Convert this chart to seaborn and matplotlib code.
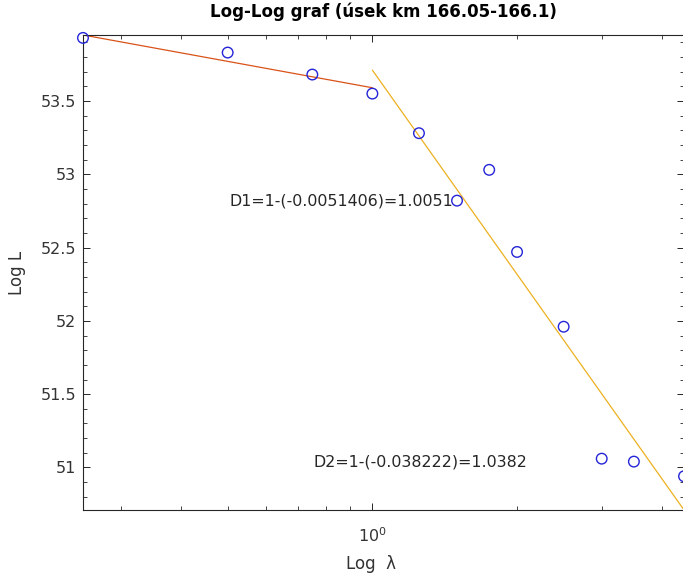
import numpy as np
import pandas as pd
import matplotlib
matplotlib.use("Agg")
import matplotlib.pyplot as plt
import seaborn as sns
from matplotlib.ticker import LogLocator, NullFormatter, FixedLocator, FixedFormatter, MultipleLocator

# data
lam = [0.25, 0.5, 0.75, 1.0, 1.25, 1.5, 1.75, 2.0, 2.5, 3.0, 3.5, 4.45]
logL = [53.93, 53.83, 53.68, 53.55, 53.28, 52.82, 53.03, 52.47, 51.96, 51.06, 51.04, 50.94]

# fitted lines (end points)
fit1_x = [0.25, 1.0]
fit1_y = [53.95, 53.59]
fit2_x = [1.0, 4.45]
fit2_y = [53.71, 50.71]

d1_text = "D1=1-(-0.0051406)=1.0051"
d2_text = "D2=1-(-0.038222)=1.0382"
title = "Log-Log graf (úsek km 166.05-166.1)"

sns.set_style("ticks")
plt.rcParams['font.family'] = ['DejaVu Sans']
plt.rcParams['mathtext.fontset'] = 'dejavusans'

pts = pd.DataFrame({'lam': lam, 'logL': logL})
l1 = pd.DataFrame({'x': fit1_x, 'y': fit1_y})
l2 = pd.DataFrame({'x': fit2_x, 'y': fit2_y})

fig = plt.figure(figsize=(6.83, 5.79), dpi=100)
ax = fig.add_axes([0.1215, 0.1192, 0.8800, 0.8204])

sns.lineplot(data=l1, x='x', y='y', ax=ax, color='#D95319', linewidth=0.9)
sns.lineplot(data=l2, x='x', y='y', ax=ax, color='#EDB120', linewidth=0.9)
sns.scatterplot(data=pts, x='lam', y='logL', ax=ax, marker='o', s=58,
                facecolors='none', edgecolor='#2424d8', linewidth=1.0, zorder=5, clip_on=False)

ax.set_xscale('log')
ax.set_xlim(0.25, 4.45)
ax.set_ylim(50.71, 53.95)

ax.xaxis.set_major_locator(FixedLocator([1.0]))
ax.xaxis.set_major_formatter(FixedFormatter([r'$10^{0}$']))
ax.xaxis.set_minor_locator(LogLocator(base=10, subs=np.arange(2, 10)))
ax.xaxis.set_minor_formatter(NullFormatter())
ax.yaxis.set_major_locator(MultipleLocator(0.5))
ax.yaxis.set_minor_locator(MultipleLocator(0.1))
ax.yaxis.set_major_formatter(plt.FuncFormatter(lambda v, p: f"{v:g}"))

ax.tick_params(which='both', direction='in', top=True, right=True, colors='#262626',
               labelcolor='#333333', labelsize=11.5)
ax.tick_params(which='major', length=5, width=0.7)
ax.tick_params(which='minor', length=3, width=0.6)
ax.tick_params(axis='y', which='major', pad=5)
ax.tick_params(axis='x', which='major', pad=12)
for s in ax.spines.values():
    s.set_color('#262626')
    s.set_linewidth(0.8)

ax.text(0.505, 52.815, d1_text, fontsize=11.4, color='#262626', va='center', ha='left')
ax.text(0.754, 51.04, d2_text, fontsize=11.4, color='#262626', va='center', ha='left')

ax.set_title(title, fontsize=12, fontweight='bold', color='black', pad=13)
ax.set_xlabel("Log  λ", fontsize=12, color='#333333')
ax.xaxis.set_label_coords(0.479, -0.095)
ax.set_ylabel("Log L", fontsize=12, color='#333333')
ax.yaxis.set_label_coords(-0.094, 0.5)

fig.savefig("out.png", dpi=100)
